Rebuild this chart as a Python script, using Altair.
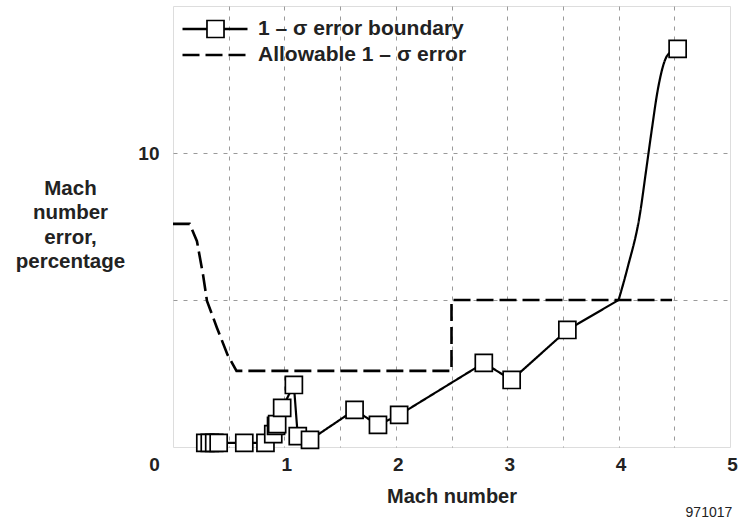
import altair as alt
import pandas as pd

# 1 - sigma error boundary: marker points
boundary_x = [0.29, 0.33, 0.37, 0.41, 0.64, 0.83, 0.90, 0.925, 0.935, 0.98, 1.085, 1.12, 1.23,
              1.63, 1.84, 2.03, 2.79, 3.04, 3.54, 4.53]
boundary_y = [0.14, 0.14, 0.14, 0.14, 0.14, 0.14, 0.44, 0.72, 0.78, 1.33, 2.11, 0.37, 0.24,
              1.26, 0.75, 1.09, 2.86, 2.28, 3.98, 13.54]
# extra points on the boundary curve without a marker
curve_x = [4.00, 4.08, 4.19, 4.25, 4.30, 4.35, 4.44]
curve_y = [5.0, 6.09, 7.89, 9.49, 10.85, 12.11, 13.33]
# allowable 1 - sigma error (dashed)
allow_x = [0.0, 0.15, 0.215, 0.27, 0.305, 0.395, 0.49, 0.57, 2.5, 2.5, 4.48]
allow_y = [7.59, 7.59, 7.0, 5.85, 4.97, 4.05, 3.13, 2.59, 2.59, 5.0, 5.0]

series_names = ["1 \u2013 \u03c3 error boundary", "Allowable 1 \u2013 \u03c3 error"]
x_ticks = [0, 0.5, 1, 1.5, 2, 2.5, 3, 3.5, 4, 4.5, 5]
y_ticks = [0, 5, 10, 15]

FONT = "Liberation Sans"
TXT = "#222222"

markers = pd.DataFrame({"x": boundary_x, "y": boundary_y, "mk": series_names[0]})
all_line = pd.DataFrame({"x": boundary_x + curve_x, "y": boundary_y + curve_y}).sort_values("x")
all_line["series"] = series_names[0]
line_lo = all_line[all_line["x"] <= 4.0]
line_hi = all_line[all_line["x"] >= 4.0]
allow_df = pd.DataFrame({"x": allow_x, "y": allow_y, "i": list(range(len(allow_x))),
                         "series": series_names[1]})

x_enc = alt.X(
    "x:Q",
    scale=alt.Scale(domain=[0, 5], nice=False, zero=False),
    axis=alt.Axis(
        values=x_ticks,
        labelExpr="datum.value % 1 == 0 ? format(datum.value, 'd') : ''",
        title="Mach number",
        grid=True,
        gridDash=[4, 6],
        gridWidth=1,
        gridColor={"condition": {"test": "datum.value == 0 || datum.value == 5", "value": "transparent"},
                   "value": "#9a9a9a"},
        ticks=False,
        domain=False,
        labelFlush=False,
        labelFont=FONT, labelFontSize=19, labelFontWeight="bold", labelColor=TXT,
        labelPadding=8,
        labelOffset={"condition": {"test": "datum.value == 0", "value": -19}, "value": 2},
        titleFont=FONT, titleFontSize=20, titleFontWeight="bold", titleColor=TXT,
        titlePadding=12,
    ),
)
y_enc = alt.Y(
    "y:Q",
    scale=alt.Scale(domain=[0, 15], nice=False, zero=False),
    axis=alt.Axis(
        values=y_ticks,
        labelExpr="datum.value == 10 ? '10' : ''",
        title=["Mach", "number", "error,", "percentage"],
        grid=True,
        gridDash=[4, 6],
        gridWidth=1,
        gridColor={"condition": {"test": "datum.value == 0 || datum.value == 15", "value": "transparent"},
                   "value": "#9a9a9a"},
        ticks=False,
        domain=False,
        labelFont=FONT, labelFontSize=19, labelFontWeight="bold", labelColor=TXT,
        labelPadding=14,
        titleFont=FONT, titleFontSize=20.5, titleFontWeight="bold", titleColor=TXT,
        titleAngle=0, titleAlign="center", titleBaseline="top",
        titleX=-103, titleY=172, titleLineHeight=24.5,
    ),
)

dash_legend = alt.Legend(
    title=None, orient="none", legendX=8, legendY=12, padding=0,
    symbolType="stroke", symbolSize=4225, symbolStrokeWidth=2.4,
    symbolStrokeColor="black", symbolOpacity=1, clipHeight=22, rowPadding=4,
    labelFont=FONT, labelFontSize=21, labelFontWeight="bold", labelColor=TXT,
    labelOffset=9, labelLimit=400, zindex=1,
)
dash_enc = alt.StrokeDash(
    "series:N",
    scale=alt.Scale(domain=series_names, range=[[1, 0], [17, 6]]),
    legend=dash_legend,
)

allow_line = alt.Chart(allow_df).mark_line(
    color="black", strokeWidth=2.6
).encode(x=x_enc, y=y_enc, order=alt.Order("i:Q"), strokeDash=dash_enc)

bound_line_lo = alt.Chart(line_lo).mark_line(
    color="black", strokeWidth=2.2
).encode(x=x_enc, y=y_enc, strokeDash=dash_enc)

bound_line_hi = alt.Chart(line_hi).mark_line(
    color="black", strokeWidth=2.2, interpolate="monotone"
).encode(x=x_enc, y=y_enc, strokeDash=dash_enc)

box_legend = alt.Legend(
    title=None, orient="none", legendX=33, legendY=12, padding=0,
    symbolSize=290, symbolStrokeWidth=1.7, symbolOpacity=1, clipHeight=22,
    labelExpr="''", labelOffset=0, zindex=2,
)

bound_pts = alt.Chart(markers).mark_point(
    size=290, filled=True, fill="white", stroke="black", strokeWidth=1.7, opacity=1
).encode(
    x=x_enc, y=y_enc,
    shape=alt.Shape("mk:N", scale=alt.Scale(domain=[series_names[0]], range=["square"]),
                    legend=box_legend),
)

chart = alt.layer(allow_line, bound_line_lo, bound_line_hi, bound_pts).properties(
    width=557,
    height=441,
    autosize=alt.AutoSizeParams(type="none"),
    padding={"left": 173, "top": 6, "right": 10, "bottom": 78},
    title=alt.TitleParams(
        "971017", orient="bottom", anchor="end", fontSize=14, fontWeight="normal",
        font=FONT, color=TXT, offset=0, dx=-5,
    ),
).configure_view(
    stroke="black", strokeWidth=2.2
).configure(background="white")

chart.save("out.html", embed_options={"renderer": "svg", "actions": False})
